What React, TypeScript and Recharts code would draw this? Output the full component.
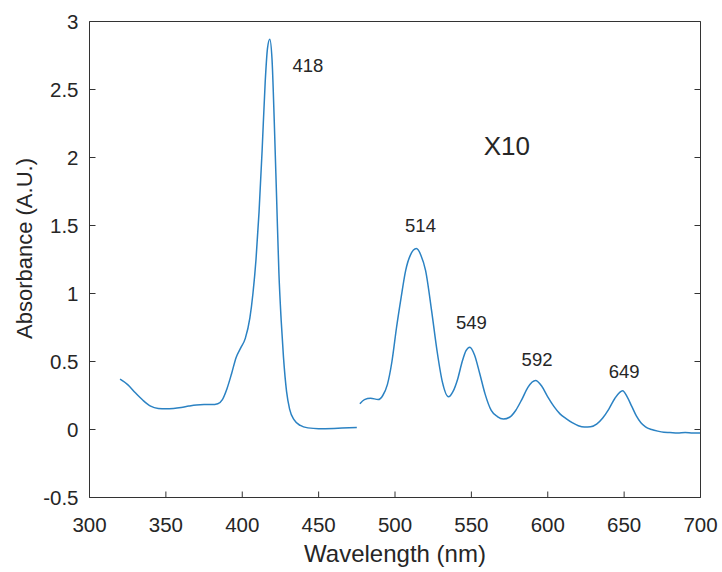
import { LineChart, Line, XAxis, YAxis, ReferenceDot } from "recharts";

// Absorption spectrum; the Q-band part (from ~477 nm) is magnified x10
const wavelength = [
  320, 325, 330, 335, 340, 345, 350, 355, 360, 365, 370, 375, 380, 384, 387, 390, 393, 396, 399,
  402, 405, 407, 409, 411, 413, 415, 416.5, 418, 419.5, 421, 422.5, 424, 425.5, 427, 429, 431,
  434, 438, 443, 450, 460, 470, 475, 476,
  477, 480, 484, 489, 492, 495, 498, 501, 504, 507, 510, 514, 517, 520, 524, 527.5, 531, 535,
  538, 541, 544, 546.5, 549, 552, 555.5, 559, 563, 567, 571, 575, 579, 583, 587, 592, 596, 600,
  604, 608, 612, 616, 620, 624, 628, 632, 636, 640, 644, 649, 652, 655, 658, 661, 664, 668,
  672, 676, 680, 685, 690, 695, 700,
];
const absorbance = [
  0.37, 0.33, 0.27, 0.215, 0.172, 0.155, 0.152, 0.155, 0.162, 0.172, 0.18, 0.183, 0.183, 0.19,
  0.22, 0.3, 0.41, 0.53, 0.6, 0.67, 0.82, 1.0, 1.25, 1.6, 2.05, 2.55, 2.8, 2.87, 2.72, 2.25,
  1.7, 1.15, 0.8, 0.53, 0.28, 0.15, 0.07, 0.03, 0.012, 0.006, 0.008, 0.012, 0.015, null,
  0.19, 0.22, 0.23, 0.22, 0.25, 0.33, 0.5, 0.75, 0.97, 1.17, 1.28, 1.33, 1.28, 1.17, 0.87,
  0.58, 0.35, 0.24, 0.28, 0.37, 0.5, 0.58, 0.605, 0.55, 0.41, 0.26, 0.14, 0.095, 0.077, 0.09,
  0.14, 0.22, 0.31, 0.36, 0.32, 0.24, 0.17, 0.115, 0.08, 0.05, 0.028, 0.018, 0.02, 0.04,
  0.085, 0.15, 0.23, 0.285, 0.24, 0.17, 0.1, 0.05, 0.02, 0.0, -0.012, -0.02, -0.022, -0.025,
  -0.022, -0.026, -0.025,
];

const xTicks = [300, 350, 400, 450, 500, 550, 600, 650, 700];
const yTicks = [-0.5, 0, 0.5, 1, 1.5, 2, 2.5, 3];

// peak annotations (text, anchor wavelength, anchor absorbance)
const peakText = ["418", "514", "549", "592", "649"];
const peakTextNm = [443, 516.7, 550, 593, 650];
const peakTextA = [2.675, 1.5, 0.79, 0.515, 0.43];

const spectrum = wavelength.map((nm, i) => ({ nm, a: absorbance[i] }));

const AXIS = "#333333";
const TEXT = "#262626";
const FONT = "'Liberation Sans', Arial, sans-serif";

// plot box edges (half-pixel so the 1px axes stay crisp)
const LEFT = 89.5;
const RIGHT = 700.5;
const TOP = 21.5;
const BOTTOM = 497.5;
const TICK = 6;

// MATLAB-style ticks: drawn inward on every side
const BottomTick = ({ x, payload }: any) => (
  <g>
    <line x1={x} x2={x} y1={BOTTOM} y2={BOTTOM - TICK} stroke={AXIS} />
    <text x={x} y={532} textAnchor="middle" fill={TEXT} fontSize={20.5}>
      {payload.value}
    </text>
  </g>
);

const LeftTick = ({ y, payload }: any) => (
  <g>
    <line x1={LEFT} x2={LEFT + TICK} y1={y} y2={y} stroke={AXIS} />
    <text x={78.5} y={y + 7.3} textAnchor="end" fill={TEXT} fontSize={20.5}>
      {payload.value}
    </text>
  </g>
);

const TopTick = ({ x }: any) => <line x1={x} x2={x} y1={TOP} y2={TOP + TICK} stroke={AXIS} />;

const RightTick = ({ y }: any) => <line x1={RIGHT} x2={RIGHT - TICK} y1={y} y2={y} stroke={AXIS} />;

export default function App() {
  return (
    <div style={{ position: "absolute", left: 0, top: 0, width: 722, height: 572, background: "#fff" }}>
      <LineChart
        width={722}
        height={572}
        data={spectrum}
        margin={{ top: TOP - 1, right: 722 - RIGHT - 1, bottom: 0, left: 0 }}
        style={{ fontFamily: FONT }}
      >
        <XAxis
          dataKey="nm"
          type="number"
          domain={[300, 700]}
          ticks={xTicks}
          interval={0}
          height={572 - BOTTOM}
          allowDataOverflow
          stroke={AXIS}
          tickLine={false}
          tick={BottomTick}
          label={{ value: "Wavelength (nm)", position: "insideBottom", offset: 10, fill: TEXT, fontSize: 24 }}
        />
        <XAxis
          xAxisId="top"
          orientation="top"
          type="number"
          domain={[300, 700]}
          ticks={xTicks}
          interval={0}
          height={1}
          allowDataOverflow
          stroke={AXIS}
          tickLine={false}
          tick={TopTick}
        />
        <YAxis
          type="number"
          domain={[-0.5, 3]}
          ticks={yTicks}
          interval={0}
          width={LEFT}
          allowDataOverflow
          stroke={AXIS}
          tickLine={false}
          tick={LeftTick}
          label={{ value: "Absorbance (A.U.)", angle: -90, position: "center", dx: -21, dy: -11, fill: TEXT, fontSize: 22 }}
        />
        <YAxis
          yAxisId="right"
          orientation="right"
          type="number"
          domain={[-0.5, 3]}
          ticks={yTicks}
          interval={0}
          width={1}
          allowDataOverflow
          stroke={AXIS}
          tickLine={false}
          tick={RightTick}
        />
        <Line
          type="monotone"
          dataKey="a"
          stroke="#2b82c3"
          strokeWidth={1.5}
          dot={false}
          activeDot={false}
          connectNulls={false}
          isAnimationActive={false}
        />
        {peakText.map((t, i) => (
          <ReferenceDot
            key={t}
            x={peakTextNm[i]}
            y={peakTextA[i]}
            r={0}
            stroke="none"
            fill="none"
            label={{ value: t, position: "center", fill: TEXT, fontSize: 18.5 }}
          />
        ))}
        <ReferenceDot
          x={573.2}
          y={2.084}
          r={0}
          stroke="none"
          fill="none"
          label={{ value: "X10", position: "center", fill: TEXT, fontSize: 26 }}
        />
      </LineChart>
    </div>
  );
}
